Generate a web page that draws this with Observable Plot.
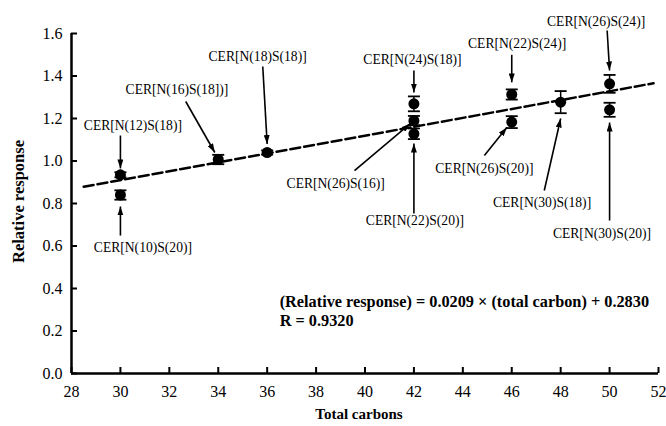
<!DOCTYPE html>
<html><head><meta charset="utf-8">
<script src="https://cdn.jsdelivr.net/npm/d3@7"></script>
<script src="https://cdn.jsdelivr.net/npm/@observablehq/plot@0.6"></script>
<style>
html,body{margin:0;padding:0;background:#fff;}
#chart{width:666px;height:426px;}
</style></head><body><div id="chart"></div>
<script>
// ---- data ----
const carbons  = [30, 30, 34, 36, 42, 42, 42, 46, 46, 48, 50, 50];
const response = [0.935, 0.84, 1.007, 1.04, 1.269, 1.19, 1.128, 1.313, 1.183, 1.277, 1.363, 1.241];
const errors   = [0.012, 0.022, 0.022, 0.01, 0.035, 0.022, 0.025, 0.024, 0.028, 0.052, 0.042, 0.033];

const xTicks = [28, 30, 32, 34, 36, 38, 40, 42, 44, 46, 48, 50, 52];
const yTicks = [0, 0.2, 0.4, 0.6, 0.8, 1.0, 1.2, 1.4, 1.6];

const fitX = [28.5, 51.8];
const fitY = [0.879, 1.366];

const annoText = ["CER[N(12)S(18)]", "CER[N(16)S(18])]", "CER[N(18)S(18)]", "CER[N(24)S(18)]",
  "CER[N(22)S(24)]", "CER[N(26)S(24)]", "CER[N(26)S(16)]", "CER[N(22)S(20)]",
  "CER[N(26)S(20)]", "CER[N(30)S(18)]", "CER[N(30)S(20)]", "CER[N(10)S(20)]"];
const annoX = [30.51, 32.31, 35.61, 41.94, 46.22, 49.45, 38.8, 42.04, 44.88, 47.24, 49.69, 30.92];
const annoY = [1.167, 1.336, 1.492, 1.478, 1.553, 1.656, 0.894, 0.72, 0.965, 0.805, 0.659, 0.593];
const arrowX1 = [30, 32.67, 35.82, 42, 46, 49.9, 39.57, 42, 44.88, 47.33, 50, 30];
const arrowY1 = [1.12, 1.28, 1.445, 1.426, 1.50, 1.614, 0.955, 0.753, 1.026, 0.861, 0.72, 0.649];
const arrowX2 = [30, 33.86, 36.0, 42, 46, 50.0, 41.85, 42, 45.8, 48.0, 50, 30];
const arrowY2 = [0.965, 1.04, 1.08, 1.322, 1.37, 1.426, 1.176, 1.082, 1.158, 1.2, 1.181, 0.786];

const eqLines = ["(Relative response) = 0.0209 \u00d7 (total carbon) + 0.2830", "R = 0.9320"];
const eqX = [36.51, 36.51];
const eqY = [0.336, 0.246];

const xTitle = "Total carbons";
const yTitle = "Relative response";

// ---- tables ----
const points = carbons.map((c, i) => ({x: c, y: response[i], e: errors[i]}));
const fit = fitX.map((x, i) => ({x, y: fitY[i]}));
const annos = annoText.map((t, i) => ({t, x: annoX[i], y: annoY[i]}));
const arrows = arrowX1.map((x1, i) => ({x1, y1: arrowY1[i], x2: arrowX2[i], y2: arrowY2[i]}));
const eqs = eqLines.map((t, i) => ({t, x: eqX[i], y: eqY[i]}));

const cap = {draw(ctx, size) { const h = Math.sqrt(size / Math.PI); ctx.moveTo(-h, 0); ctx.lineTo(h, 0); }};
const serif = "'Liberation Serif', 'Times New Roman', serif";

const plot = Plot.plot({
  width: 666, height: 426,
  marginLeft: 71, marginRight: 8, marginTop: 33, marginBottom: 53,
  style: {fontFamily: serif, background: "#fff", color: "#000"},
  x: {domain: [28, 52]},
  y: {domain: [0, 1.6]},
  marks: [
    Plot.axisX({ticks: xTicks, tickSize: -6, tickPadding: 18, tickFormat: d => String(d), fontSize: 16, label: null, strokeWidth: 2}),
    Plot.axisY({ticks: yTicks, tickSize: -6, tickPadding: 15, tickFormat: d => d.toFixed(1), fontSize: 16, label: null, strokeWidth: 2}),
    Plot.ruleX([28], {strokeWidth: 2.5}),
    Plot.ruleY([0], {strokeWidth: 2.5}),
    Plot.line(fit, {x: "x", y: "y", stroke: "#000", strokeWidth: 2.5, strokeDasharray: "10,4"}),
    Plot.ruleX(points, {x: "x", y1: d => d.y - d.e, y2: d => d.y + d.e, stroke: "#000", strokeWidth: 1.5}),
    Plot.dot(points, {x: "x", y: d => d.y + d.e, symbol: cap, r: 6, fill: "none", stroke: "#000", strokeWidth: 1.8}),
    Plot.dot(points, {x: "x", y: d => d.y - d.e, symbol: cap, r: 6, fill: "none", stroke: "#000", strokeWidth: 1.8}),
    Plot.dot(points, {x: "x", y: "y", r: 5.5, fill: "#000", stroke: "none"}),
    Plot.link(arrows, {x1: "x1", y1: "y1", x2: "x2", y2: "y2", stroke: "#000", strokeWidth: 1.6}),
    Plot.text(annos, {x: "x", y: "y", text: "t", fontSize: 13.6, fill: "#000"}),
    Plot.text(eqs, {x: "x", y: "y", text: "t", textAnchor: "start", fontSize: 16.3, fontWeight: "bold", fill: "#000"}),
    Plot.text([xTitle], {frameAnchor: "bottom", textAnchor: "middle", dx: -6, dy: 45, fontSize: 15, fontWeight: "bold", fill: "#000"}),
    Plot.text([yTitle], {frameAnchor: "left", textAnchor: "middle", rotate: -90, dx: -53, dy: -2, fontSize: 16.5, fontWeight: "bold", fill: "#000"})
  ]
});

// filled arrowheads on the link mark
const defs = document.createElementNS("http://www.w3.org/2000/svg", "defs");
defs.innerHTML = '<marker id="ah" viewBox="0 0 9 6" refX="9" refY="3" markerWidth="9" markerHeight="6" markerUnits="userSpaceOnUse" orient="auto"><path d="M0,0L9,3L0,6Z" fill="#000"/></marker>';
plot.insertBefore(defs, plot.firstChild);
plot.querySelectorAll('g[aria-label="link"] path').forEach(p => p.setAttribute("marker-end", "url(#ah)"));

document.getElementById("chart").appendChild(plot);
</script></body></html>
